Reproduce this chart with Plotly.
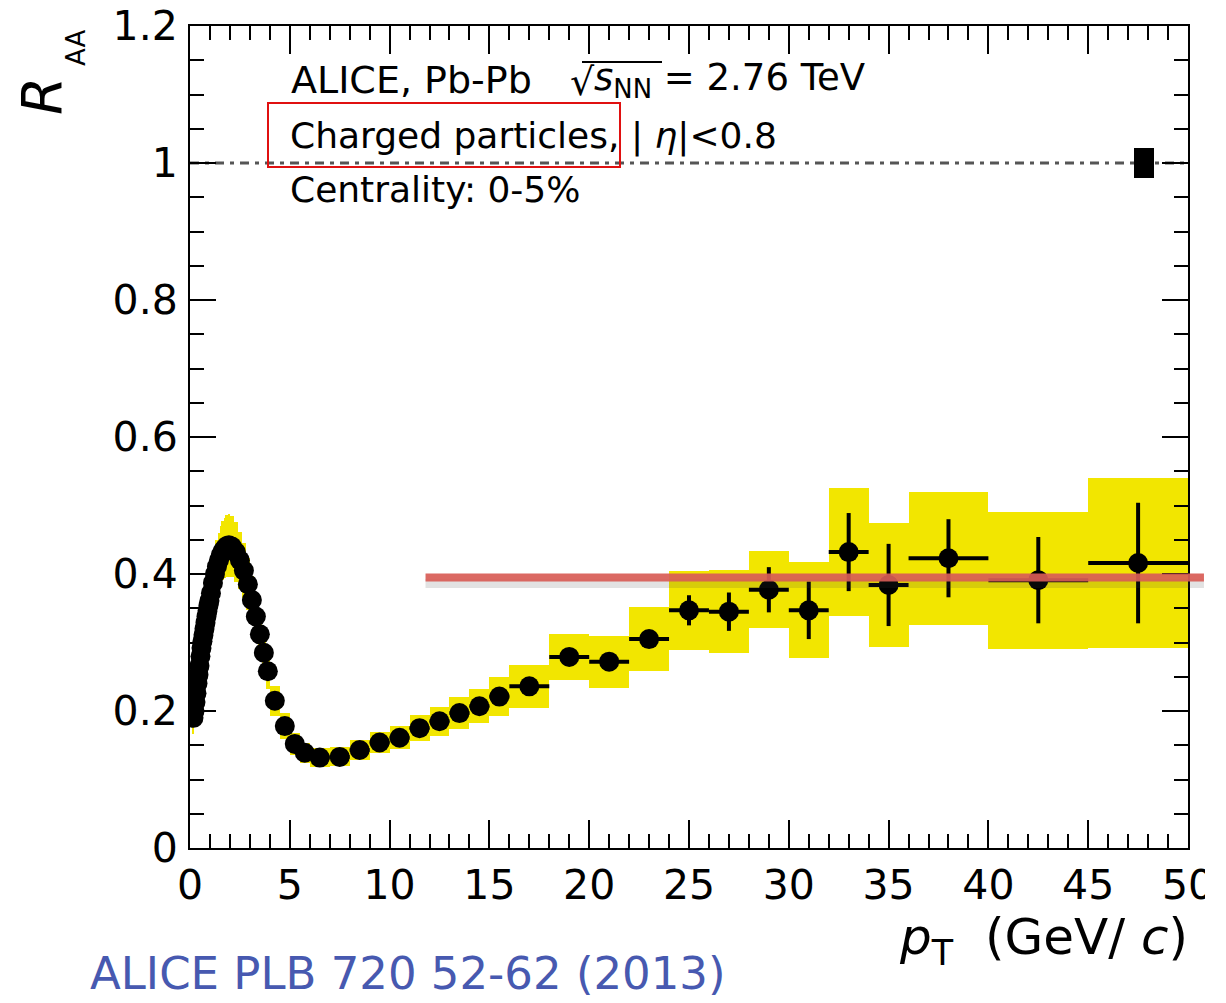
import plotly.graph_objects as go

# ---------------- data ----------------
pt = [0.175, 0.225, 0.275, 0.325, 0.375, 0.425, 0.475, 0.525, 0.575, 0.625,
      0.675, 0.725, 0.775, 0.825, 0.875, 0.925, 0.975,
      1.05, 1.15, 1.25, 1.35, 1.45, 1.55, 1.65, 1.75, 1.85, 1.95,
      2.1, 2.3, 2.5, 2.7, 2.9, 3.1, 3.3, 3.5, 3.7, 3.9,
      4.25, 4.75, 5.25, 5.75,
      6.5, 7.5, 8.5, 9.5, 10.5, 11.5, 12.5, 13.5, 14.5, 15.5,
      17, 19, 21, 23, 25, 27, 29, 31, 33, 35, 38, 42.5, 47.5]
bin_halfwidth = [0.025] * 17 + [0.05] * 10 + [0.1] * 10 + [0.25] * 4 + [0.5] * 10 + \
    [1, 1, 1, 1, 1, 1, 1, 1, 1, 1, 2, 2.5, 2.5]
raa = [0.190, 0.200, 0.213, 0.226, 0.240, 0.253, 0.266, 0.280, 0.292, 0.302,
       0.311, 0.320, 0.329, 0.338, 0.346, 0.354, 0.361,
       0.372, 0.387, 0.400, 0.411, 0.420, 0.428, 0.434, 0.438, 0.441, 0.442,
       0.440, 0.432, 0.420, 0.405, 0.385, 0.362, 0.338, 0.312, 0.285, 0.258,
       0.215, 0.178, 0.152, 0.139,
       0.132, 0.133, 0.143, 0.154, 0.161, 0.175, 0.185, 0.197, 0.207, 0.221,
       0.236, 0.279, 0.272, 0.305, 0.347, 0.345, 0.377, 0.347, 0.432, 0.384,
       0.423, 0.391, 0.416]
stat = [0.001] * 41 + [0.002, 0.002, 0.002, 0.002, 0.003, 0.003, 0.003, 0.003, 0.004, 0.004,
                       0.005, 0.007, 0.008, 0.012, 0.022, 0.028, 0.033, 0.042, 0.057, 0.060,
                       0.057, 0.063, 0.088]
syst = [0.024, 0.024, 0.024, 0.025, 0.025, 0.026, 0.026, 0.027, 0.027, 0.028,
        0.028, 0.029, 0.029, 0.030, 0.030, 0.031, 0.031,
        0.033, 0.034, 0.036, 0.038, 0.040, 0.042, 0.043, 0.044, 0.045, 0.046,
        0.045, 0.044, 0.042, 0.040, 0.038, 0.035, 0.032, 0.030, 0.028, 0.026,
        0.022, 0.019, 0.016, 0.015,
        0.014, 0.014, 0.015, 0.016, 0.017, 0.019, 0.021, 0.023, 0.025, 0.028,
        0.031, 0.034, 0.038, 0.047, 0.058, 0.061, 0.056, 0.070, 0.094, 0.091,
        0.097, 0.100, 0.124]

norm_pt = [47.8]
norm_halfwidth = [0.5]
norm_unc = [0.022]

ref_level = 1.0
red_level = 0.395
red_start, red_end = 11.8, 50.8

x_ticks = [0, 5, 10, 15, 20, 25, 30, 35, 40, 45, 50]
y_ticks = [0, 0.2, 0.4, 0.6, 0.8, 1, 1.2]
X_RANGE = [0, 50]
Y_RANGE = [0, 1.2]

FONT = "DejaVu Sans"

# plot-area pixel geometry
W, H = 1226, 1003
ML, MR, MT, MB = 190, 38, 26, 155
PW, PH = W - ML - MR, H - MT - MB


def px_x(p):
    return (p - ML) / PW


def px_y(p):
    return (H - MB - p) / PH


fig = go.Figure()

# systematic boxes
fig.add_trace(go.Bar(
    x=pt,
    y=[2 * s for s in syst],
    base=[v - s for v, s in zip(raa, syst)],
    width=[2 * w for w in bin_halfwidth],
    marker=dict(color="#f2e600", line=dict(width=0)),
    hoverinfo="skip", showlegend=False,
))

# normalisation box
fig.add_trace(go.Bar(
    x=norm_pt,
    y=[2 * u for u in norm_unc],
    base=[ref_level - u for u in norm_unc],
    width=[2 * w for w in norm_halfwidth],
    marker=dict(color="black", line=dict(width=0)),
    hoverinfo="skip", showlegend=False,
))

# data points
fig.add_trace(go.Scatter(
    x=pt, y=raa, mode="markers",
    marker=dict(symbol="circle", size=20, color="black"),
    error_x=dict(type="data", array=bin_halfwidth, color="black", thickness=4, width=0),
    error_y=dict(type="data", array=stat, color="black", thickness=4, width=0),
    showlegend=False,
))

shapes = [
    # dotted reference line at 1
    dict(type="line", xref="x", yref="y", x0=X_RANGE[0], x1=X_RANGE[1], y0=ref_level, y1=ref_level,
         line=dict(color="#555555", width=3, dash="9px,6px,4px,6px"), layer="below"),
    # red level line shadow
    dict(type="line", xref="paper", yref="y",
         x0=red_start / X_RANGE[1], x1=red_end / X_RANGE[1],
         y0=red_level - 0.009, y1=red_level - 0.009,
         line=dict(color="rgba(60,60,60,0.15)", width=9), layer="above"),
    dict(type="line", xref="paper", yref="y",
         x0=red_start / X_RANGE[1], x1=red_end / X_RANGE[1],
         y0=red_level, y1=red_level,
         line=dict(color="rgba(216,92,86,0.92)", width=8), layer="above"),
    # red box around "Charged particles,"
    dict(type="rect", xref="paper", yref="paper",
         x0=px_x(268), x1=px_x(620), y0=px_y(167), y1=px_y(103),
         line=dict(color="#e01010", width=2), layer="above"),
    # radical overline over s_NN
    dict(type="line", xref="paper", yref="paper",
         x0=px_x(582), x1=px_x(662), y0=px_y(62), y1=px_y(62),
         line=dict(color="black", width=2), layer="above"),
    # crop at right edge
    dict(type="rect", xref="paper", yref="paper",
         x0=px_x(1205), x1=px_x(1230), y0=px_y(1010), y1=px_y(-5),
         fillcolor="white", line=dict(width=0), layer="above"),
]

ann = [
    dict(text="ALICE, Pb-Pb", x=px_x(289), y=px_y(80), font=dict(size=38)),
    dict(text="√", x=px_x(568), y=px_y(82), font=dict(size=38)),
    dict(text="<i>s</i><sub>NN</sub> = 2.76 TeV", x=px_x(592), y=px_y(80), font=dict(size=37)),
    dict(text="Charged particles, | <i>η</i>|&lt;0.8", x=px_x(288), y=px_y(136),
         font=dict(size=36)),
    dict(text="Centrality: 0-5%", x=px_x(288), y=px_y(190), font=dict(size=36)),
    dict(text="<i>R</i>", x=px_x(42), y=px_y(96), textangle=-90, xanchor="center",
         font=dict(size=55)),
    dict(text="AA", x=px_x(76), y=px_y(48), textangle=-90, xanchor="center",
         font=dict(size=26)),
    dict(text="<i>p</i><sub>T</sub>  (GeV/ <i>c</i>)", x=px_x(1190), y=px_y(940),
         xanchor="right", font=dict(size=50)),
    dict(text="ALICE PLB 720 52-62 (2013)", x=px_x(88), y=px_y(974),
         font=dict(size=45, color="#4759b0")),
]
for a in ann:
    a.setdefault("xanchor", "left")
    a.update(xref="paper", yref="paper", yanchor="middle", showarrow=False)
    f = a["font"]
    f.setdefault("family", FONT)
    f.setdefault("color", "black")

axis_common = dict(
    showline=True, linecolor="black", linewidth=2, mirror="ticks",
    ticks="inside", tickcolor="black", tickwidth=2,
    showgrid=False, zeroline=False, automargin=False,
    tickfont=dict(family=FONT, size=41, color="black"),
)

fig.update_layout(
    width=W, height=H, autosize=False,
    margin=dict(l=ML, r=MR, t=MT, b=MB, pad=0),
    paper_bgcolor="white", plot_bgcolor="white",
    barmode="overlay", bargap=0,
    shapes=shapes, annotations=ann,
    showlegend=False,
    xaxis=dict(range=X_RANGE, tickmode="array", tickvals=x_ticks, ticklen=28,
               minor=dict(dtick=1, ticklen=14, ticks="inside", tickcolor="black", tickwidth=2, showgrid=False),
               ticklabelstandoff=0, **axis_common),
    yaxis=dict(range=Y_RANGE, tickmode="array", tickvals=y_ticks, ticklen=26,
               minor=dict(dtick=0.05, ticklen=14, ticks="inside", tickcolor="black", tickwidth=2, showgrid=False),
               ticklabelstandoff=2, **axis_common),
)

fig.write_html("out.html")
